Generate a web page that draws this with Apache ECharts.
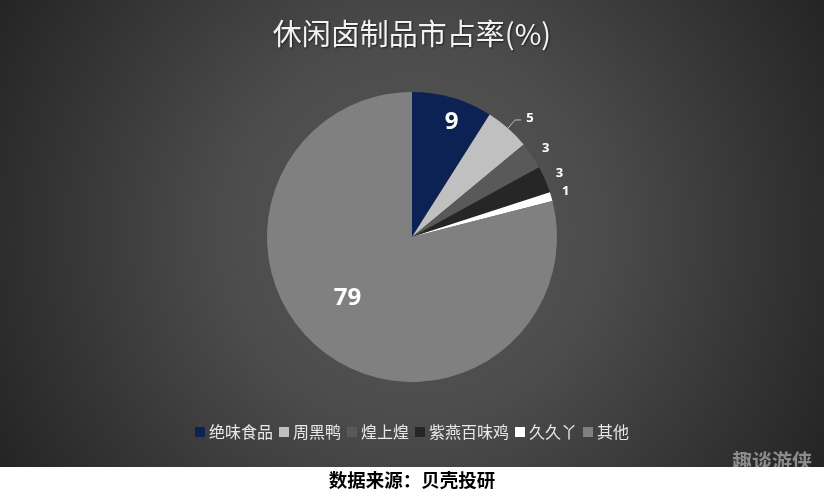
<!DOCTYPE html>
<html>
<head>
<meta charset="utf-8">
<script src="https://cdn.jsdelivr.net/npm/echarts@6/dist/echarts.min.js"></script>
<style>html,body{margin:0;padding:0;background:#fff}#c{width:824px;height:500px}</style>
</head>
<body>
<div id="c"></div>
<script>
const categories = ['绝味食品', '周黑鸭', '煌上煌', '紫燕百味鸡', '久久丫', '其他'];
const shares = [9, 5, 3, 3, 1, 79];
const colors = ['#0d2254', '#c0c0c0', '#595959', '#262626', '#ffffff', '#808080'];
const titleText = '休闲卤制品市占率(%)';
const sourceText = '数据来源：贝壳投研';
const watermark = '趣谈游侠';

const chart = echarts.init(document.getElementById('c'), null, {renderer: 'canvas'});

const center = [412, 237];
const R = 145;
const insideSet = {'绝味食品': true, '其他': true};

const mainData = categories.map((n, i) => {
  const d = {name: n, value: shares[i], itemStyle: {color: colors[i]}};
  if (insideSet[n]) {
    d.label = {show: false};
    d.labelLine = {show: false};
  } else if (n === '周黑鸭') {
    d.label = {show: true, offset: [0, -2]};
    d.labelLine = {show: true, length: 11, length2: 6, lineStyle: {color: '#bfbfbf', width: 1}};
  } else {
    d.label = {show: true, offset: [0, -4]};
    d.labelLine = {show: false, length: 5, length2: 1};
  }
  return d;
});

function overlayData(showName, off) {
  return categories.map((n, i) => ({
    name: n, value: shares[i],
    itemStyle: {color: 'rgba(0,0,0,0)'},
    label: {show: n === showName, offset: off}
  }));
}

chart.setOption({
  backgroundColor: '#ffffff',
  animation: false,
  title: {
    text: titleText,
    left: 'center',
    top: 14,
    textStyle: {
      color: '#f2f2f2', fontSize: 29, fontWeight: 'normal',
      fontFamily: 'Noto Sans CJK SC',
      textShadowColor: 'rgba(0,0,0,0.6)', textShadowBlur: 2, textShadowOffsetX: 1, textShadowOffsetY: 1
    }
  },
  legend: {
    data: categories,
    bottom: 55,
    left: 'center',
    itemWidth: 10,
    itemHeight: 10,
    itemGap: 6,
    icon: 'rect',
    textStyle: {color: '#e8e8e8', fontSize: 16, fontFamily: 'Noto Sans CJK SC', padding: [0, 0, 0, -1]}
  },
  graphic: [
    {
      type: 'rect', z: -10, silent: true,
      shape: {x: 0, y: 0, width: 824, height: 467},
      style: {
        fill: {
          type: 'radial', x: 0.5, y: 0.5, r: 1.0,
          colorStops: [
            {offset: 0, color: '#575757'},
            {offset: 0.4, color: '#4c4c4c'},
            {offset: 0.75, color: '#353535'},
            {offset: 1, color: '#252525'}
          ]
        }
      }
    },
    {
      type: 'text', z: 5, silent: true,
      left: 732, top: 451,
      style: {text: watermark, fill: '#8c8c8c', font: 'bold 20px "Noto Sans CJK SC"'}
    },
    {
      type: 'rect', z: 10, silent: true,
      shape: {x: 0, y: 467, width: 824, height: 33},
      style: {fill: '#ffffff'}
    },
    {
      type: 'text', z: 11, silent: true,
      left: 'center', top: 471,
      style: {text: sourceText, fill: '#000000', font: 'bold 18.5px "Noto Sans CJK SC"'}
    }
  ],
  series: [
    {
      type: 'pie',
      center: center,
      radius: [0, R],
      startAngle: 90,
      clockwise: true,
      silent: true,
      data: mainData,
      itemStyle: {borderWidth: 0},
      label: {
        position: 'outside',
        formatter: '{c}',
        color: '#ffffff',
        fontSize: 13,
        fontWeight: 'bold',
        fontFamily: 'Noto Sans'
      }
    },
    {
      type: 'pie',
      center: center,
      radius: [97, R],
      startAngle: 90,
      silent: true,
      legendHoverLink: false,
      data: overlayData('绝味食品', [5, 4]),
      label: {position: 'inside', formatter: '{c}', color: '#ffffff', fontSize: 24, fontWeight: 'bold', fontFamily: 'Noto Sans'},
      labelLine: {show: false}
    },
    {
      type: 'pie',
      center: center,
      radius: [30, R],
      startAngle: 90,
      silent: true,
      legendHoverLink: false,
      data: overlayData('其他', [-9, -10]),
      label: {position: 'inside', formatter: '{c}', color: '#ffffff', fontSize: 24, fontWeight: 'bold', fontFamily: 'Noto Sans'},
      labelLine: {show: false}
    }
  ]
});
</script>
</body>
</html>
